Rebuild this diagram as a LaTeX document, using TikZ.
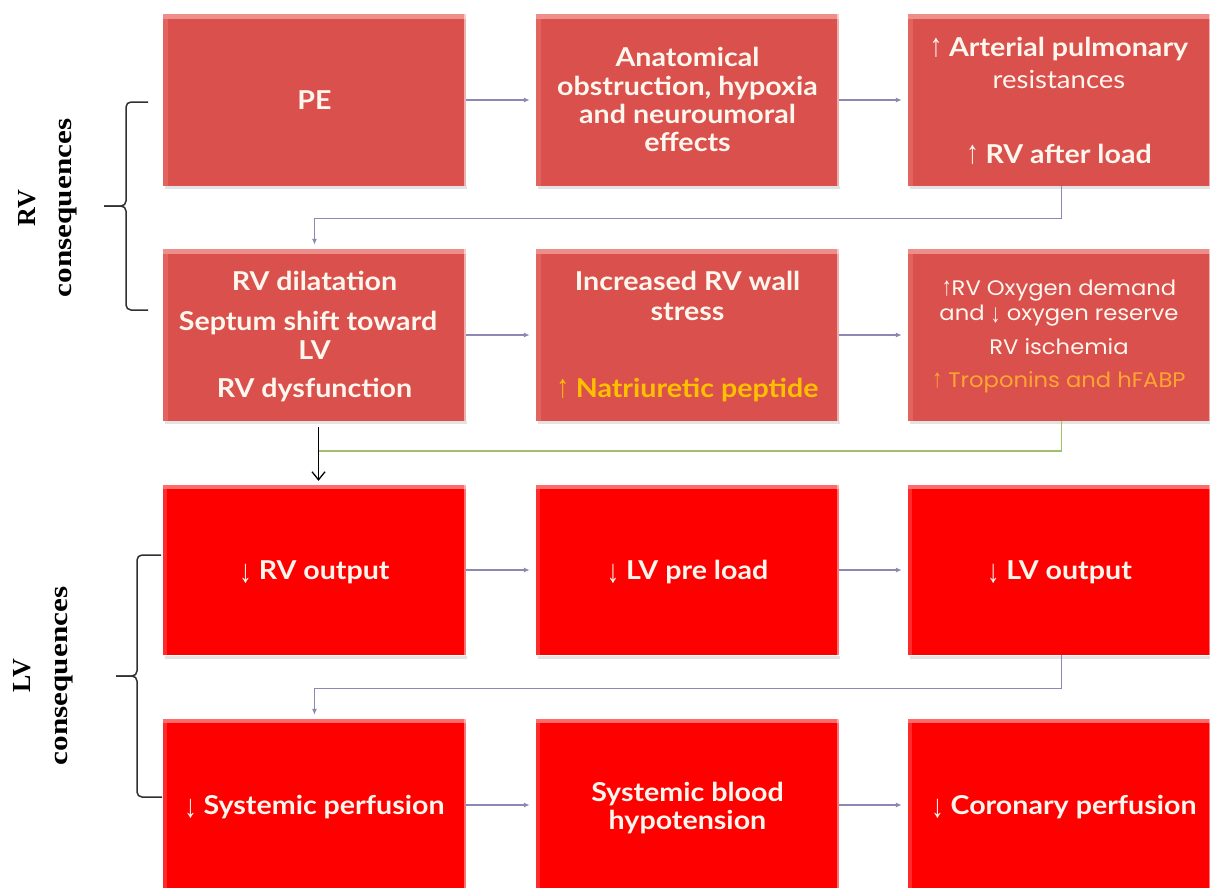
\documentclass[tikz,border=0pt]{standalone}
\usepackage{fontspec}
\usepackage{graphicx}
\usetikzlibrary{arrows.meta}
\newfontfamily\bxf{Lato}[FakeStretch=1.1]
\newfontfamily\thinf{Poppins}[FakeStretch=1.08]
\newfontfamily\arrf{Liberation Sans}
\newfontfamily\serf{Liberation Serif}
\newcommand\upa{{\arrf\mdseries\scalebox{0.95}[1.25]{↑}}}
\newcommand\dna{{\arrf\mdseries\raisebox{-0.12em}{\scalebox{0.95}[1.25]{↓}}}}
\definecolor{rvred}{HTML}{D9504C}
\definecolor{rvtop}{HTML}{EE8E8A}
\definecolor{rvleft}{HTML}{E3645F}
\definecolor{lvred}{HTML}{FF0000}
\definecolor{lvtop}{HTML}{FF6A6A}
\definecolor{lvleft}{HTML}{FF2A2A}
\definecolor{cream}{HTML}{FFF6EE}
\definecolor{orangeA}{HTML}{FFC000}
\definecolor{orangeB}{HTML}{FFA630}
\definecolor{conn}{HTML}{8C88B4}
\definecolor{greenc}{HTML}{A3BF6A}
\definecolor{bracec}{HTML}{303030}
\definecolor{shadowc}{HTML}{C8C8C8}
\begin{document}
\begin{tikzpicture}[x=1pt,y=-1pt,
  boxbase/.style={minimum width=303pt, minimum height=172pt, inner sep=0pt, draw=none},
  rvbox/.style={boxbase, fill=rvred,
    path picture={
      \fill[rvleft] (path picture bounding box.north west) rectangle ([xshift=5pt]path picture bounding box.south west);
      \fill[rvtop] (path picture bounding box.north west) rectangle ([yshift=-5pt]path picture bounding box.north east);
      \fill[white,opacity=0.55] ([xshift=-2pt]path picture bounding box.north east) rectangle (path picture bounding box.south east);
    }},
  lvbox/.style={boxbase, fill=lvred,
    path picture={
      \fill[lvleft] (path picture bounding box.north west) rectangle ([xshift=4pt]path picture bounding box.south west);
      \fill[lvtop] (path picture bounding box.north west) rectangle ([yshift=-4pt]path picture bounding box.north east);
      \fill[white,opacity=0.45] ([xshift=-2pt]path picture bounding box.north east) rectangle (path picture bounding box.south east);
    }},
  tx/.style={text=cream, font=\bxf\bfseries\fontsize{26}{30}\selectfont, inner sep=0pt, text height=18.5pt, text depth=0pt},
  txr/.style={tx, font=\bxf\fontsize{25}{29}\selectfont, text height=17.5pt},
  thin/.style={text=cream, font=\thinf\fontsize{21}{25}\selectfont, inner sep=0pt, text height=14.5pt, text depth=0pt},
  connarrow/.style={draw=conn, line width=1.4pt, -{Latex[length=6pt,width=5pt]}, shorten >=6pt},
  lab/.style={font=\serf\bfseries\fontsize{26}{30}\selectfont, text=black, inner sep=0pt},
  bracepath/.style={draw=bracec, line width=1.5pt, rounded corners=5pt}
]
\useasboundingbox (0,0) rectangle (1210,887);
\clip (0,0) rectangle (1210,887);
\fill[white] (0,0) rectangle (1210,887);

% shadows
\foreach \cx/\cy in {314.5/100,687.5/100,1059.5/100,314.5/335,687.5/335,1059.5/335,314.5/570,687.5/570,1059.5/570}{
  \fill[shadowc,opacity=0.5] (\cx-150,\cy+86) rectangle (\cx+152,\cy+89);
}

% boxes
\node[rvbox] (b11) at (314.5,100) {};
\node[rvbox] (b12) at (687.5,100) {};
\node[rvbox] (b13) at (1059.5,100) {};
\node[rvbox] (b21) at (314.5,335) {};
\node[rvbox] (b22) at (687.5,335) {};
\node[rvbox] (b23) at (1059.5,335) {};
\node[lvbox, minimum height=170pt] (b31) at (314.5,570) {};
\node[lvbox, minimum height=170pt] (b32) at (687.5,570) {};
\node[lvbox, minimum height=170pt] (b33) at (1059.5,570) {};
\node[lvbox] (b41) at (314.5,805) {};
\node[lvbox] (b42) at (687.5,805) {};
\node[lvbox] (b43) at (1059.5,805) {};

% texts row 1
\node[tx] (t11) at (314.5,100) {PE};
\node[tx] (t12a) at (687.5,57) {Anatomical};
\node[tx] (t12b) at (687.5,86) {obstruction, hypoxia};
\node[tx] (t12c) at (687.5,114) {and neuroumoral};
\node[tx] (t12d) at (687.5,142) {effects};
\node[tx] (t13a) at (1059,47) {\upa\ Arterial pulmonary};
\node[txr] (t13b) at (1059,80) {resistances};
\node[tx] (t13c) at (1059,154) {\upa\ RV after load};
% row 2
\node[tx] (t21a) at (314.5,281) {RV dilatation};
\node[tx] (t21b) at (308,321) {Septum shift toward};
\node[tx] (t21c) at (314.5,350) {LV};
\node[tx] (t21d) at (314.5,388) {RV dysfunction};
\node[tx] (t22a) at (687.5,281) {Increased RV wall};
\node[tx] (t22b) at (687.5,311) {stress};
\node[tx, text=orangeA] (t22c) at (687.5,388) {\upa\ Natriuretic peptide};
\node[thin] (t23a) at (1059,288) {\upa RV Oxygen demand};
\node[thin] (t23b) at (1059,313) {and \dna\ oxygen reserve};
\node[thin] (t23c) at (1059,347) {RV ischemia};
\node[thin, text=orangeB] (t23d) at (1059,380) {\upa\ Troponins and hFABP};
% row 3
\node[tx] (t31) at (314.5,570) {\dna\ RV output};
\node[tx] (t32) at (687.5,570) {\dna\ LV pre load};
\node[tx] (t33) at (1059.5,570) {\dna\ LV output};
% row 4
\node[tx] (t41) at (314.5,805) {\dna\ Systemic perfusion};
\node[tx] (t42a) at (687.5,792) {Systemic blood};
\node[tx] (t42b) at (687.5,820) {hypotension};
\node[tx] (t43) at (1064,805) {\dna\ Coronary perfusion};

% horizontal connectors
\draw[connarrow] (b11.east) -- (b12.west);
\draw[connarrow] (b12.east) -- (b13.west);
\draw[connarrow] (b21.east) -- (b22.west);
\draw[connarrow] (b22.east) -- (b23.west);
\draw[connarrow] (b31.east) -- (b32.west);
\draw[connarrow] (b32.east) -- (b33.west);
\draw[connarrow] (b41.east) -- (b42.west);
\draw[connarrow] (b42.east) -- (b43.west);

% elbow connectors
\draw[connarrow, shorten >=4pt] ([xshift=2pt]b13.south) -- ++(0,32) -| (b21.north);
\draw[connarrow, shorten >=4pt] ([xshift=2pt]b33.south) -- ++(0,33) -| (b41.north);

% black arrow and green line
\draw[black, line width=1.3pt, -{Straight Barb[length=8pt,width=13pt]}, shorten <=6pt, shorten >=4pt] ([xshift=4pt]b21.south) -- ([xshift=4pt]b31.north);
\coordinate (gj) at (318.5,451);
\draw[greenc, line width=1.2pt] ([xshift=2pt]b23.south) |- (gj);

% braces
\draw[bracepath] (148,102) -- (126,102) -- (126,206) -- (104,206);
\draw[bracepath] (104,206) -- (126,206) -- (126,310) -- (148,310);
\draw[bracepath] (161,555) -- (137,555) -- (137,676) -- (116,676);
\draw[bracepath] (116,676) -- (137,676) -- (137,797) -- (162,797);

% labels
\node[lab, rotate=90] (rvl) at (27,208) {RV};
\node[lab, rotate=90] (rvc) at (68,208) {\scalebox{1.2}[1]{consequences}};
\node[lab, rotate=90] (lvl) at (22,676) {LV};
\node[lab, rotate=90] (lvc) at (64,676) {\scalebox{1.2}[1]{consequences}};
\end{tikzpicture}
\end{document}
